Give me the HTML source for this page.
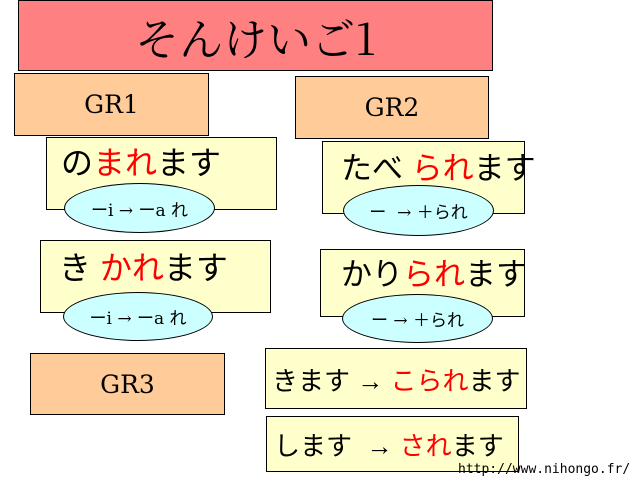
<!DOCTYPE html>
<html><head><meta charset="utf-8"><style>
body{margin:0;width:640px;height:480px;background:#fff;position:relative;overflow:hidden;font-family:"Liberation Sans","Noto Sans CJK JP",sans-serif}
.b{position:absolute;border:1px solid #000;box-sizing:border-box}
.o{background:#ffcc99;font-family:"DejaVu Serif","Liberation Serif",serif;font-size:25px;display:flex;align-items:center;justify-content:center}
.y{background:#ffffcc;font-size:31px;white-space:nowrap}
.e{position:absolute;border:1px solid #000;border-radius:50%;background:#ccffff;box-sizing:border-box;font-size:17px;display:flex;align-items:center;justify-content:center;white-space:nowrap;font-family:"DejaVu Serif","Noto Sans CJK JP",serif}
.r{color:#ff0000}
.t{position:absolute;white-space:nowrap}
</style></head><body>
<div class="b" style="left:18px;top:0;width:475px;height:71px;background:#ff8080;font-family:'Noto Serif CJK SC','Liberation Serif',serif;font-size:44px;display:flex;align-items:center;justify-content:center">そんけいご1</div>
<div class="b o" style="left:14px;top:73px;width:195px;height:63px">GR1</div>
<div class="b o" style="left:295px;top:76px;width:194px;height:63px">GR2</div>
<div class="b o" style="left:30px;top:353px;width:195px;height:62px">GR3</div>

<div class="b y" style="left:46px;top:137px;width:231px;height:73px"><span class="t" style="left:14px;top:0px;font-size:32px">の<span class="r">まれ</span>ます</span></div>
<div class="e" style="left:64px;top:183px;width:151px;height:50px">ーi → ーa れ</div>
<div class="b y" style="left:40px;top:240px;width:231px;height:73px"><span class="t" style="left:18px;top:2px;font-size:32px">き <span class="r">かれ</span>ます</span></div>
<div class="e" style="left:63px;top:292px;width:150px;height:49px">ーi → ーa れ</div>

<div class="b y" style="left:322px;top:141px;width:203px;height:73px"><span class="t" style="left:18px;top:1px">たべ <span class="r">られ</span>ます</span></div>
<div class="e" style="left:343px;top:185px;width:151px;height:51px">ー &nbsp;→ ＋られ</div>
<div class="b y" style="left:320px;top:249px;width:205px;height:68px"><span class="t" style="left:20px;top:-1px">かり<span class="r">られ</span>ます</span></div>
<div class="e" style="left:342px;top:294px;width:151px;height:49px">ー → ＋られ</div>

<div class="b y" style="left:265px;top:348px;width:262px;height:61px;font-size:26px"><span class="t" style="left:6px;top:12px">きます → <span class="r">こられ</span>ます</span></div>
<div class="b y" style="left:266px;top:416px;width:253px;height:56px;font-size:26px"><span class="t" style="left:7px;top:9px">します &nbsp;→ <span class="r">され</span>ます</span></div>
<div class="t" style="left:458px;top:462px;font-family:'DejaVu Sans Mono','Liberation Mono',monospace;font-size:13px">http://www.nihongo.fr/</div>
</body></html>
